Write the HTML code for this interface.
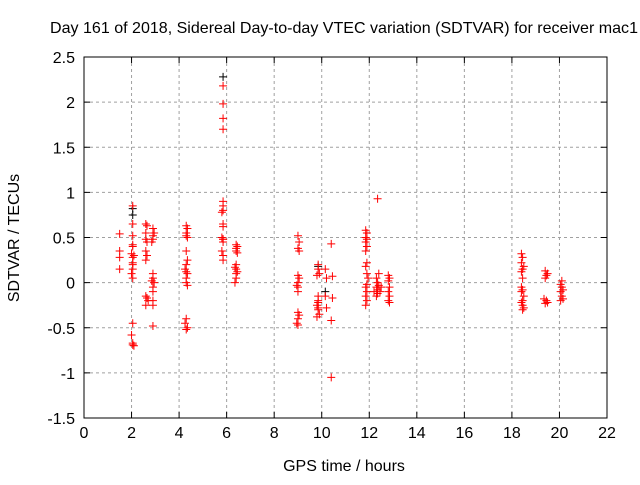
<!DOCTYPE html>
<html><head><meta charset="utf-8"><style>
body{margin:0;background:#fff}
svg text{font-family:"Liberation Sans",sans-serif;font-size:16px;fill:#000}
</style></head><body>
<svg id="c" width="640" height="480">
<rect width="640" height="480" fill="#fff"/>
</svg>
<script>
const redX = [
1.5,1.5,1.5,1.5,
2.05,2.05,2.05,2.05,2.05,2.0,2.05,2.05,2.05,2.0,2.05,2.1,2.05,2.0,2.05,2.05,2.1,2.05,
2.6,2.65,2.6,2.6,2.65,2.6,2.65,2.6,2.6,2.65,2.7,2.6,
2.9,2.95,2.9,2.9,2.85,2.9,2.9,2.85,2.95,2.9,2.9,2.9,2.9,2.9,
4.3,4.35,4.3,4.3,4.35,4.3,4.35,4.3,4.25,4.3,4.35,4.3,4.3,4.35,4.3,4.25,4.35,4.3,
5.85,5.85,5.85,5.85,5.85,5.85,5.85,5.8,5.85,5.85,5.8,5.85,5.85,5.8,5.85,5.85,5.85,
6.4,6.45,6.4,6.4,6.45,6.4,6.35,6.4,6.45,6.4,6.4,6.35,
9.0,9.05,9.0,9.05,9.0,9.05,9.0,8.95,9.0,9.0,9.0,9.05,9.0,8.95,9.0,
9.85,9.85,9.9,9.8,9.85,9.85,9.8,9.85,9.85,9.9,9.8,9.85,
10.15,10.2,10.15,10.2,10.4,10.45,10.45,10.4,10.4,
11.85,11.9,11.85,11.9,11.85,11.9,11.85,11.9,11.85,11.9,11.95,11.9,11.85,11.9,11.85,11.9,11.85,
12.35,12.3,12.35,12.4,12.3,12.35,12.45,12.35,12.3,12.5,12.2,12.4,
12.8,12.85,12.8,12.85,12.8,12.85,12.8,12.85,
18.4,18.45,18.4,18.5,18.45,18.4,18.45,18.4,18.45,18.4,18.5,18.45,18.4,18.45,18.5,18.45,
19.4,19.5,19.45,19.4,19.35,19.45,19.5,19.4,
20.1,20.05,20.1,20.15,20.05,20.1,20.15,20.05];
const redY = [
0.54,0.35,0.28,0.15,
0.85,0.65,0.52,0.42,0.4,0.32,0.28,0.22,0.15,0.1,0.05,0.3,-0.45,-0.58,-0.67,-0.69,-0.7,0.2,
0.65,0.63,0.55,0.48,0.45,0.35,0.3,0.25,-0.15,-0.17,-0.2,-0.25,
0.6,0.55,0.52,0.48,0.45,0.1,0.05,0.02,0,-0.05,-0.1,-0.2,-0.25,-0.48,
0.63,0.6,0.55,0.52,0.5,0.35,0.25,0.2,0.15,0.12,0.1,0.05,0,-0.03,-0.4,-0.45,-0.5,-0.52,
2.18,1.98,1.82,1.7,0.9,0.85,0.8,0.78,0.65,0.62,0.5,0.48,0.45,0.35,0.3,0.25,0.48,
0.42,0.4,0.38,0.35,0.33,0.2,0.17,0.15,0.12,0.1,0.05,0,
0.52,0.45,0.38,0.35,0.08,0.05,0,-0.03,-0.05,-0.1,-0.33,-0.36,-0.4,-0.45,-0.47,
0.2,0.15,0.1,0.08,-0.15,-0.2,-0.25,-0.28,-0.3,-0.35,-0.38,-0.22,
0.15,0.05,-0.15,-0.28,0.43,0.07,-0.17,-0.42,-1.05,
0.58,0.55,0.5,0.48,0.45,0.4,0.35,0.22,0.18,0.1,0.05,-0.02,-0.05,-0.1,-0.15,-0.2,-0.25,
0.93,0.05,0,-0.03,-0.05,-0.08,-0.1,-0.12,-0.15,-0.05,-0.1,0.1,
0.08,0.05,0.02,-0.05,-0.1,-0.15,-0.2,-0.22,
0.32,0.28,0.22,0.18,0.15,0.12,0.05,-0.05,-0.08,-0.1,-0.15,-0.2,-0.22,-0.25,-0.28,-0.3,
0.13,0.1,0.08,0.05,-0.18,-0.2,-0.22,-0.23,
0.02,-0.02,-0.05,-0.08,-0.1,-0.15,-0.18,-0.2];
const blackX = [2.05,2.05,5.85,9.85,10.15];
const blackY = [0.82,0.75,2.28,0.18,-0.1];
const xTicks = [0,2,4,6,8,10,12,14,16,18,20,22];
const yTicks = [-1.5,-1,-0.5,0,0.5,1,1.5,2,2.5];

const NS='http://www.w3.org/2000/svg', svg=document.getElementById('c');
const L=84,R=607,T=57,B=418;
const sx=v=>L+(v-0)/22*(R-L), sy=v=>B-(v+1.5)/4*(B-T);
function el(t,a,p){const e=document.createElementNS(NS,t);for(const k in a)e.setAttribute(k,a[k]);(p||svg).appendChild(e);return e;}
const grid=el('g',{});


xTicks.forEach(v=>{
  if(v>0&&v<22) el('line',{x1:sx(v),x2:sx(v),y1:T,y2:B,stroke:'#a0a0a0','stroke-dasharray':'3,3'},grid);
  el('line',{x1:sx(v),x2:sx(v),y1:B,y2:B-6,stroke:'#000'});
  el('line',{x1:sx(v),x2:sx(v),y1:T,y2:T+6,stroke:'#000'});
  const t=el('text',{x:sx(v),y:B+20,'text-anchor':'middle'});t.textContent=v;
  
  
});
yTicks.forEach(v=>{
  if(v>-1.5&&v<2.5) el('line',{x1:L,x2:R,y1:sy(v),y2:sy(v),stroke:'#a0a0a0','stroke-dasharray':'3,3'},grid);
  el('line',{x1:L,x2:L+6,y1:sy(v),y2:sy(v),stroke:'#000'});
  el('line',{x1:R,x2:R-6,y1:sy(v),y2:sy(v),stroke:'#000'});
  const t=el('text',{x:L-9,y:sy(v)+6,'text-anchor':'end'});t.textContent=v;
  
  
});
const frame=el('rect',{x:L,y:T,width:R-L,height:B-T,fill:'none',stroke:'#000'});


function pts(xs,ys,col,name){
  const g=el('g',{stroke:col,'stroke-width':1});
  
  
  xs.forEach((x,i)=>{const px=sx(x),py=sy(ys[i]);
    el('path',{d:`M${px-4} ${py}H${px+4}M${px} ${py-4}V${py+4}`},g);});
}
pts(blackX,blackY,'#000','black-points');
pts(redX,redY,'#f00','sdtvar-points');
let t=el('text',{x:344,y:33,'text-anchor':'middle',textLength:588,lengthAdjust:'spacingAndGlyphs'});t.textContent='Day 161 of 2018, Sidereal Day-to-day VTEC variation (SDTVAR) for receiver mac1';


t=el('text',{x:344,y:471,'text-anchor':'middle'});t.textContent='GPS time / hours';


t=el('text',{x:19,y:238,'text-anchor':'middle',transform:'rotate(-90 19 238)'});t.textContent='SDTVAR / TECUs';


</script>
</body></html>
